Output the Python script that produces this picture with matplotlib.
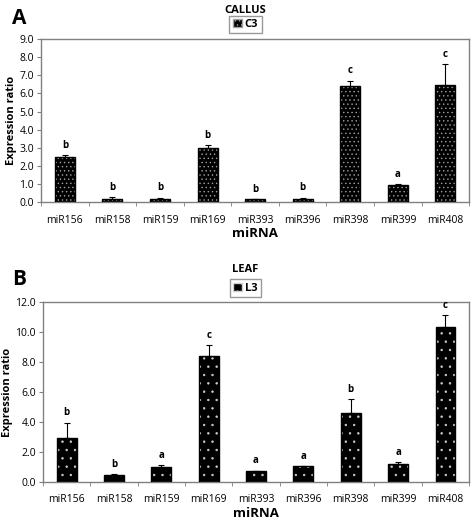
import numpy as np
import matplotlib.pyplot as plt
from matplotlib.patches import Patch

plt.rcParams['font.family'] = ['Open Sans', 'DejaVu Sans']
plt.rcParams['hatch.linewidth'] = 0.5

mirnas = ["miR156", "miR158", "miR159", "miR169", "miR393",
          "miR396", "miR398", "miR399", "miR408"]

# panel A - callus
callus = [2.5, 0.2, 0.2, 3.0, 0.15, 0.2, 6.4, 0.95, 6.45]
callus_err = [0.1, 0.08, 0.05, 0.15, 0.02, 0.04, 0.3, 0.03, 1.15]
callus_letters = ["b", "b", "b", "b", "b", "b", "c", "a", "c"]

# panel B - leaf
leaf = [2.93, 0.47, 1.02, 8.42, 0.72, 1.03, 4.58, 1.22, 10.31]
leaf_err = [1.02, 0.05, 0.08, 0.7, 0.03, 0.03, 0.93, 0.1, 0.82]
leaf_letters = ["b", "b", "a", "c", "a", "a", "b", "a", "c"]

GREY = "#808080"


def draw_panel(ax, vals, errs, letters, ymax, ystep, gap, hatch, dotc):
    x = np.arange(len(mirnas))
    # black bars with white dots
    ax.bar(x, vals, width=0.42, color="black", edgecolor=dotc,
           hatch=hatch, linewidth=0, zorder=2)
    ax.bar(x, vals, width=0.42, color="none", edgecolor="black",
           linewidth=1.0, zorder=3)
    # only the upper half of the error bar, like excel
    ax.errorbar(x, vals, yerr=[np.zeros(len(vals)), errs], fmt="none",
                ecolor="black", elinewidth=0.8, capsize=2, capthick=0.8,
                zorder=4)
    for xi, v, e, lab in zip(x, vals, errs, letters):
        ax.text(xi, v + e + gap, lab, ha="center", va="bottom",
                fontsize=7, fontweight="bold")
    ax.set_xlim(-0.5, len(mirnas) - 0.5)
    ax.set_ylim(0, ymax)
    ticks = np.arange(0, ymax + 0.01, ystep)
    ax.set_yticks(ticks)
    ax.set_yticklabels(["%.1f" % t for t in ticks], fontsize=7.5)
    ax.set_xticks(x)
    ax.set_xticklabels(mirnas, fontsize=7.5)
    ax.set_xticks(np.arange(-0.5, len(mirnas), 1), minor=True)
    ax.tick_params(axis="x", which="major", length=0, pad=9)
    ax.tick_params(axis="x", which="minor", length=3, color=GREY)
    ax.tick_params(axis="y", length=3, color=GREY, pad=2)
    for s in ax.spines.values():
        s.set_color(GREY)
        s.set_linewidth(1)
    ax.set_xlabel("miRNA", fontsize=9.5, fontweight="bold", labelpad=1)
    ax.set_ylabel("Expression ratio", fontsize=8, fontweight="bold",
                  labelpad=2)


fig = plt.figure(figsize=(4.72, 5.21), dpi=100)

axA = fig.add_axes([0.087, 0.612, 0.907, 0.313])
draw_panel(axA, callus, callus_err, callus_letters, 9.0, 1.0, 0.25,
           "....", "#a0a0a0")

axB = fig.add_axes([0.091, 0.075, 0.903, 0.345])
draw_panel(axB, leaf, leaf_err, leaf_letters, 12.0, 2.0, 0.3,
           "..", "#d0d0d0")

fig.text(0.025, 0.965, "A", fontsize=15, fontweight="bold", va="center")
fig.text(0.025, 0.464, "B", fontsize=15, fontweight="bold", va="center")

fig.text(0.52, 0.99, "CALLUS", fontsize=8, fontweight="bold",
         ha="center", va="top")
fig.text(0.52, 0.493, "LEAF", fontsize=8, fontweight="bold",
         ha="center", va="top")

handleA = Patch(facecolor="black", edgecolor="#a0a0a0", hatch="....")
handleB = Patch(facecolor="black", edgecolor="#d0d0d0", hatch="..")
fig.legend([handleA], ["C3"], loc="center", bbox_to_anchor=(0.52, 0.953),
           prop={"weight": "bold", "size": 8}, frameon=True,
           fancybox=False, edgecolor=GREY, handlelength=0.8, handleheight=0.8,
           handletextpad=0.3, borderpad=0.3, borderaxespad=0)
fig.legend([handleB], ["L3"], loc="center", bbox_to_anchor=(0.52, 0.447),
           prop={"weight": "bold", "size": 8}, frameon=True,
           fancybox=False, edgecolor=GREY, handlelength=0.8, handleheight=0.8,
           handletextpad=0.3, borderpad=0.3, borderaxespad=0)

fig.savefig("out.png", dpi=100)
